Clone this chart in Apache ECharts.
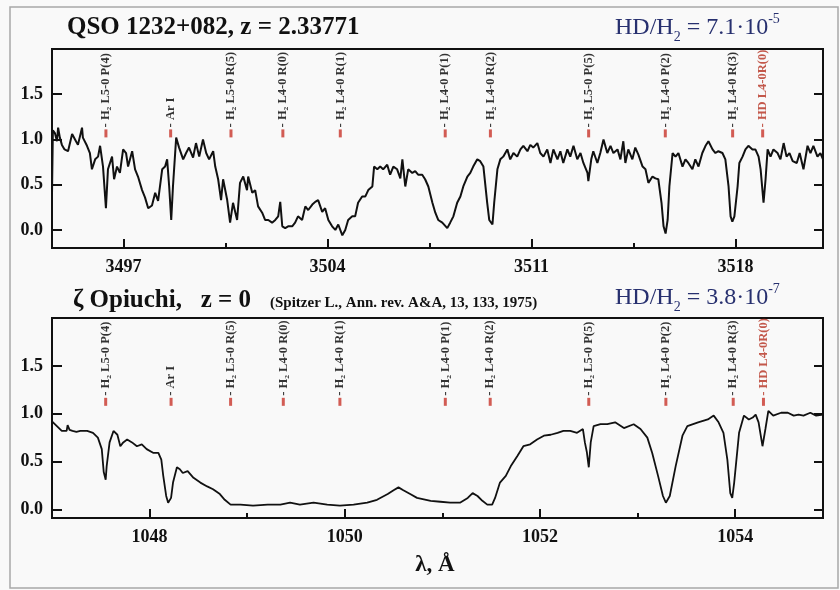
<!DOCTYPE html>
<html><head><meta charset="utf-8">
<script src="https://cdn.jsdelivr.net/npm/echarts@6/dist/echarts.min.js"></script>
<style>html,body{margin:0;padding:0;background:#fff}#c{width:840px;height:590px}</style>
</head><body><div id="c"></div>
<script>
// ---- data ----
const topWave = [3494.55,3494.58,3494.65,3494.72,3494.76,3494.82,3494.89,3494.98,3495.10,3495.24,3495.34,3495.44,3495.58,3495.61,3495.75,3495.85,3495.92,3496.03,3496.13,3496.20,3496.30,3496.40,3496.47,3496.61,3496.68,3496.78,3496.88,3496.99,3497.09,3497.16,3497.30,3497.40,3497.50,3497.64,3497.74,3497.85,3497.98,3498.09,3498.19,3498.33,3498.43,3498.50,3498.57,3498.64,3498.70,3498.81,3498.91,3499.05,3499.15,3499.25,3499.39,3499.49,3499.60,3499.73,3499.84,3499.94,3500.08,3500.15,3500.25,3500.35,3500.42,3500.56,3500.66,3500.76,3500.90,3501.00,3501.11,3501.24,3501.28,3501.42,3501.52,3501.62,3501.76,3501.86,3501.97,3502.10,3502.21,3502.31,3502.38,3502.45,3502.55,3502.65,3502.79,3502.89,3502.99,3503.13,3503.24,3503.34,3503.48,3503.58,3503.68,3503.82,3503.92,3504.03,3504.16,3504.27,3504.37,3504.51,3504.61,3504.71,3504.85,3504.95,3505.05,3505.19,3505.30,3505.40,3505.54,3505.60,3505.71,3505.81,3505.91,3506.05,3506.15,3506.26,3506.39,3506.50,3506.57,3506.67,3506.77,3506.91,3507.01,3507.11,3507.25,3507.35,3507.46,3507.60,3507.70,3507.80,3507.94,3508.11,3508.21,3508.32,3508.45,3508.56,3508.66,3508.80,3508.90,3509.00,3509.14,3509.24,3509.35,3509.48,3509.55,3509.66,3509.72,3509.83,3509.93,3510.03,3510.17,3510.27,3510.38,3510.51,3510.62,3510.72,3510.86,3510.96,3511.06,3511.20,3511.30,3511.41,3511.54,3511.65,3511.75,3511.89,3511.99,3512.09,3512.23,3512.33,3512.44,3512.57,3512.68,3512.78,3512.92,3512.95,3513.05,3513.12,3513.26,3513.36,3513.47,3513.60,3513.71,3513.81,3513.95,3514.05,3514.15,3514.22,3514.32,3514.46,3514.56,3514.67,3514.81,3514.91,3515.01,3515.15,3515.25,3515.35,3515.46,3515.53,3515.60,3515.67,3515.73,3515.84,3515.94,3516.04,3516.18,3516.28,3516.38,3516.52,3516.62,3516.73,3516.86,3516.97,3517.07,3517.21,3517.31,3517.41,3517.55,3517.65,3517.76,3517.83,3517.89,3517.96,3518.07,3518.13,3518.24,3518.34,3518.44,3518.58,3518.68,3518.79,3518.86,3518.96,3519.03,3519.10,3519.20,3519.30,3519.44,3519.54,3519.65,3519.75,3519.85,3519.96,3520.10,3520.20,3520.33,3520.47,3520.57,3520.67,3520.81,3520.91,3521.00];
const topFlux = [0.40,1.10,1.07,0.98,1.13,1.02,0.94,0.89,0.87,1.06,1.00,0.94,1.13,1.02,0.93,0.85,0.67,0.78,0.81,0.93,0.70,0.24,0.67,0.81,0.56,0.70,0.63,0.89,0.85,0.70,0.87,0.67,0.59,0.44,0.36,0.24,0.27,0.41,0.32,0.67,0.70,0.78,0.48,0.11,0.48,1.02,0.91,0.78,0.85,0.91,0.80,0.96,0.81,1.00,0.85,0.78,0.87,0.70,0.56,0.33,0.56,0.33,0.08,0.30,0.11,0.52,0.59,0.44,0.59,0.41,0.44,0.26,0.19,0.11,0.11,0.08,0.11,0.15,0.31,0.04,0.02,0.04,0.04,0.08,0.15,0.11,0.26,0.22,0.28,0.31,0.33,0.20,0.24,0.11,0.04,0.00,0.06,-0.06,0.00,0.11,0.15,0.15,0.30,0.37,0.37,0.44,0.48,0.70,0.67,0.70,0.67,0.72,0.61,0.70,0.67,0.57,0.78,0.48,0.67,0.63,0.65,0.61,0.61,0.56,0.48,0.30,0.19,0.11,0.08,0.02,0.08,0.15,0.30,0.37,0.48,0.59,0.63,0.70,0.78,0.76,0.70,0.30,0.11,0.06,0.30,0.67,0.78,0.81,0.89,0.78,0.85,0.81,0.89,0.93,0.87,0.94,0.91,0.96,0.85,0.81,0.89,0.74,0.89,0.78,0.87,0.74,0.89,0.81,0.93,0.78,0.85,0.74,0.63,0.54,0.78,0.87,0.74,0.85,1.00,0.85,0.93,0.85,0.89,0.78,0.98,0.74,0.89,0.78,0.91,0.83,0.70,0.67,0.52,0.59,0.57,0.56,0.30,0.04,-0.04,0.11,0.48,0.85,0.81,0.85,0.70,0.78,0.74,0.67,0.78,0.70,0.85,0.93,0.98,0.89,0.85,0.87,0.85,0.78,0.48,0.15,0.09,0.15,0.48,0.74,0.81,0.89,0.93,0.89,0.89,0.81,0.67,0.30,0.56,0.89,0.81,0.89,0.85,0.78,0.96,0.81,0.85,0.76,0.74,0.85,0.67,0.93,0.85,0.93,0.81,0.85,0.78];
const botWave = [1047.00,1047.05,1047.10,1047.15,1047.16,1047.18,1047.21,1047.25,1047.29,1047.36,1047.42,1047.47,1047.51,1047.53,1047.55,1047.56,1047.59,1047.63,1047.67,1047.70,1047.73,1047.77,1047.82,1047.87,1047.92,1047.97,1048.04,1048.09,1048.12,1048.14,1048.17,1048.19,1048.22,1048.24,1048.28,1048.31,1048.34,1048.39,1048.45,1048.52,1048.59,1048.65,1048.72,1048.77,1048.83,1048.93,1049.06,1049.21,1049.34,1049.44,1049.54,1049.68,1049.82,1049.95,1050.09,1050.23,1050.33,1050.44,1050.50,1050.55,1050.60,1050.67,1050.74,1050.88,1050.98,1051.08,1051.18,1051.26,1051.31,1051.36,1051.41,1051.46,1051.51,1051.54,1051.59,1051.65,1051.70,1051.77,1051.83,1051.90,1051.97,1052.04,1052.11,1052.18,1052.24,1052.31,1052.38,1052.44,1052.46,1052.48,1052.50,1052.52,1052.55,1052.62,1052.69,1052.77,1052.86,1052.96,1053.03,1053.10,1053.15,1053.21,1053.26,1053.29,1053.33,1053.39,1053.46,1053.51,1053.62,1053.72,1053.78,1053.83,1053.88,1053.92,1053.95,1053.97,1053.99,1054.04,1054.09,1054.14,1054.18,1054.21,1054.24,1054.28,1054.31,1054.34,1054.39,1054.47,1054.54,1054.60,1054.65,1054.70,1054.77,1054.83,1054.90];
const botFlux = [0.92,0.87,0.82,0.82,0.88,0.83,0.82,0.81,0.82,0.82,0.80,0.75,0.63,0.39,0.31,0.45,0.70,0.82,0.78,0.66,0.70,0.73,0.70,0.66,0.68,0.63,0.59,0.59,0.52,0.35,0.14,0.07,0.12,0.28,0.44,0.42,0.38,0.40,0.33,0.28,0.24,0.21,0.16,0.10,0.05,0.05,0.04,0.05,0.05,0.07,0.05,0.07,0.05,0.04,0.05,0.07,0.10,0.16,0.20,0.23,0.20,0.16,0.12,0.09,0.08,0.07,0.07,0.12,0.17,0.14,0.09,0.05,0.05,0.12,0.28,0.35,0.45,0.56,0.66,0.68,0.73,0.77,0.78,0.80,0.82,0.82,0.80,0.84,0.70,0.60,0.44,0.70,0.87,0.89,0.89,0.91,0.85,0.89,0.84,0.75,0.59,0.35,0.14,0.07,0.14,0.45,0.77,0.87,0.91,0.94,0.98,0.91,0.80,0.52,0.17,0.12,0.28,0.80,0.98,0.94,0.96,0.99,0.91,0.66,0.84,1.03,0.98,1.01,1.01,0.98,0.99,0.98,1.01,0.98,0.99];
const lineNames = ['H₂ L5-0 P(4)','Ar I','H₂ L5-0 R(5)','H₂ L4-0 R(0)','H₂ L4-0 R(1)','H₂ L4-0 P(1)','H₂ L4-0 R(2)','H₂ L5-0 P(5)','H₂ L4-0 P(2)','H₂ L4-0 R(3)','HD L4-0R(0)'];
const topLineWave = [3496.40,3498.62,3500.69,3502.47,3504.44,3508.04,3509.59,3512.96,3515.59,3517.90,3518.93];
const botLineWave = [1047.55,1048.22,1048.83,1049.37,1049.95,1051.03,1051.49,1052.50,1053.29,1053.98,1054.29];
const topMajorTicks = [3497,3504,3511,3518];
const topMinorTicks = [3500.5,3507.5,3514.5];
const botMajorTicks = [1048,1050,1052,1054];
const botMinorTicks = [1049,1051,1053];
const yTicks = [0,0.5,1.0,1.5];

// ---- chart ----
const SERIF = "'Liberation Serif','Times New Roman',serif";
const INK = '#111';
const chart = echarts.init(document.getElementById('c'), null, {renderer:'canvas'});

function xAxes(grid, min, max, major, minor){
  return [
    {gridIndex:grid, type:'value', min:min, max:max, position:'bottom',
     axisLine:{show:true, onZero:false, lineStyle:{color:INK, width:2}},
     axisTick:{show:true, inside:true, length:9, customValues:major, lineStyle:{color:INK, width:2}},
     axisLabel:{show:true, customValues:major, margin:10, color:INK, fontFamily:SERIF, fontWeight:'bold', fontSize:18,
       formatter:v=>String(Math.round(v))},
     splitLine:{show:false}},
    {gridIndex:grid, type:'value', min:min, max:max, position:'bottom',
     axisLine:{show:false, onZero:false},
     axisTick:{show:true, inside:true, length:5, customValues:minor, lineStyle:{color:INK, width:2}},
     axisLabel:{show:false}, splitLine:{show:false}}
  ];
}
function yAxes(grid, min, max){
  return [
    {gridIndex:grid, type:'value', min:min, max:max, position:'left',
     axisLine:{show:true, onZero:false, lineStyle:{color:INK, width:2}},
     axisTick:{show:true, inside:true, length:10, customValues:yTicks, lineStyle:{color:INK, width:2}},
     axisLabel:{show:true, customValues:yTicks, margin:9, color:INK, fontFamily:SERIF, fontWeight:'bold', fontSize:18,
       formatter:v=>Number(v).toFixed(1)},
     splitLine:{show:false}},
    {gridIndex:grid, type:'value', min:min, max:max, position:'right',
     axisLine:{show:true, onZero:false, lineStyle:{color:INK, width:2}},
     axisTick:{show:true, inside:true, length:9, customValues:yTicks, lineStyle:{color:INK, width:2}},
     axisLabel:{show:false}, splitLine:{show:false}}
  ];
}
function labelSeries(waves, level, xIdx, yIdx){
  return {
    type:'scatter', xAxisIndex:xIdx, yAxisIndex:yIdx, silent:true,
    symbol:'rect', symbolSize:[3,8], itemStyle:{color:'#c8352a'},
    data: waves.map((w,i)=>{
      const d = {value:[w, level], name:lineNames[i]};
      if (lineNames[i].indexOf('HD')===0) d.label = {color:'#b5301f'};
      return d;
    }),
    label:{show:true, position:'top', distance:2, rotate:90, align:'left', verticalAlign:'middle',
      formatter:p=>'- '+p.name, color:'#000', fontFamily:SERIF, fontWeight:'bold', fontSize:12.5}
  };
}
function spectrum(w, f, xIdx, yIdx, width){
  return {type:'line', xAxisIndex:xIdx, yAxisIndex:yIdx, showSymbol:false, silent:true,
    data: w.map((x,i)=>[x, f[i]]), lineStyle:{color:INK, width:width}};
}

const navy = '#27306f';
function ratioText(x, y, mant, exp){
  return {type:'text', x:x, y:y, silent:true,
    style:{text:'{m|HD/H}{s|2}{m| = '+mant+'·10}{p|'+exp+'}', align:'left', verticalAlign:'middle',
      rich:{
        m:{fontFamily:SERIF, fontSize:24, fill:navy, color:navy, lineHeight:32, verticalAlign:'middle'},
        s:{fontFamily:SERIF, fontSize:14, fill:navy, color:navy, lineHeight:32, verticalAlign:'bottom'},
        p:{fontFamily:SERIF, fontSize:14, fill:navy, color:navy, lineHeight:32, verticalAlign:'top'}
      }}};
}

chart.setOption({
  backgroundColor:'#f9f9f9',
  animation:false,
  grid:[
    {left:52, top:49, width:771, height:199, show:true, borderColor:INK, borderWidth:2, backgroundColor:'transparent'},
    {left:52, top:318, width:771, height:200, show:true, borderColor:INK, borderWidth:2, backgroundColor:'transparent'}
  ],
  xAxis:[].concat(xAxes(0, 3494.55, 3521.0, topMajorTicks, topMinorTicks), xAxes(1, 1047, 1054.9, botMajorTicks, botMinorTicks)),
  yAxis:[].concat(yAxes(0, -0.2, 2.0), yAxes(1, -0.09, 2.0)),
  series:[
    spectrum(topWave, topFlux, 0, 0, 2),
    spectrum(botWave, botFlux, 2, 2, 1.8),
    labelSeries(topLineWave, 1.067, 0, 0),
    labelSeries(botLineWave, 1.124, 2, 2)
  ],
  graphic:[
    {type:'rect', silent:true, shape:{x:10, y:7, width:828, height:581}, style:{fill:'none', stroke:'#a8a8a8', lineWidth:1.5}},
    {type:'text', x:67, y:28, silent:true, style:{text:'QSO 1232+082, z = 2.33771', font:"bold 25px "+SERIF, fill:INK, align:'left', verticalAlign:'middle'}},
    ratioText(615, 28, '7.1', '-5'),
    {type:'text', x:73, y:301, silent:true, style:{text:'ζ Opiuchi,   z = 0', font:"bold 25px "+SERIF, fill:INK, align:'left', verticalAlign:'middle'}},
    {type:'text', x:270, y:303, silent:true, style:{text:'(Spitzer L., Ann. rev. A&A, 13, 133, 1975)', font:"bold 15px "+SERIF, fill:INK, align:'left', verticalAlign:'middle'}},
    ratioText(615, 298, '3.8', '-7'),
    {type:'text', x:435, y:565, silent:true, style:{text:'λ, Å', font:"bold 23px "+SERIF, fill:INK, align:'center', verticalAlign:'middle'}}
  ]
});
</script>
</body></html>
